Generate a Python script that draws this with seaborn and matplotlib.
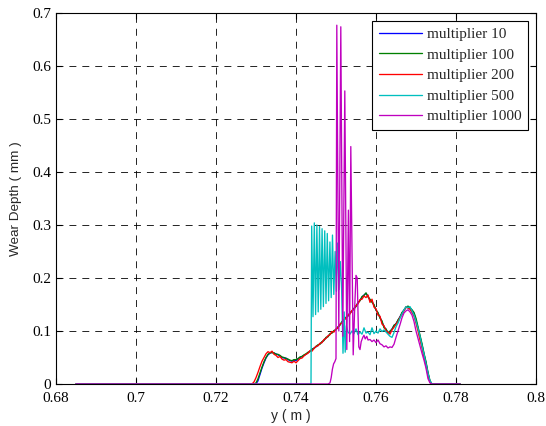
import numpy as np
import pandas as pd
import matplotlib
matplotlib.use("Agg")
import matplotlib.pyplot as plt
import seaborn as sns

# ---------------------------------------------------------------------------
# Wear depth profiles across the rail (y position in m, depth in mm)
# ---------------------------------------------------------------------------
series_labels = ["multiplier 10", "multiplier 100", "multiplier 200",
                 "multiplier 500", "multiplier 1000"]
series_colors = ["#0000ff", "#008000", "#ff0000", "#00bfbf", "#bf00bf"]

# contact zone edges (wear is zero outside)
zone_start = 0.685
zone_end = 0.781

# common sampling grid for the three low-multiplier runs
pos_fine = np.round(np.arange(0.7290, 0.77451, 0.0005), 4)

depth_m10 = [
    0.000, 0.000, 0.000, 0.006, 0.018, 0.030, 0.040, 0.049, 0.055, 0.058,
    0.060, 0.058, 0.057, 0.055, 0.053, 0.050, 0.049, 0.049, 0.046, 0.044,
    0.043, 0.045, 0.044, 0.047, 0.050, 0.052, 0.054, 0.056, 0.059, 0.062,
    0.065, 0.068, 0.070, 0.073, 0.076, 0.079, 0.083, 0.087, 0.090, 0.094,
    0.097, 0.100, 0.103, 0.107, 0.112, 0.117, 0.121, 0.125, 0.129, 0.134,
    0.138, 0.142, 0.147, 0.153, 0.158, 0.164, 0.168, 0.171, 0.166, 0.158,
    0.156, 0.148, 0.140, 0.133, 0.126, 0.117, 0.108, 0.103, 0.097, 0.098,
    0.104, 0.110, 0.114, 0.120, 0.127, 0.134, 0.140, 0.144, 0.146, 0.143,
    0.139, 0.133, 0.120, 0.105, 0.089, 0.074, 0.056, 0.040, 0.020, 0.005,
    0.000, 0.000,
]

depth_m100 = [
    0.000, 0.000, 0.002, 0.010, 0.021, 0.032, 0.042, 0.050, 0.056, 0.059,
    0.059, 0.059, 0.056, 0.056, 0.054, 0.051, 0.050, 0.048, 0.047, 0.045,
    0.044, 0.046, 0.046, 0.048, 0.051, 0.052, 0.055, 0.057, 0.060, 0.061,
    0.066, 0.067, 0.071, 0.074, 0.075, 0.080, 0.082, 0.088, 0.089, 0.095,
    0.096, 0.101, 0.102, 0.108, 0.111, 0.118, 0.120, 0.126, 0.128, 0.135,
    0.137, 0.143, 0.146, 0.154, 0.157, 0.165, 0.167, 0.172, 0.164, 0.160,
    0.154, 0.150, 0.139, 0.135, 0.124, 0.119, 0.106, 0.104, 0.096, 0.100,
    0.103, 0.111, 0.113, 0.121, 0.126, 0.135, 0.139, 0.145, 0.147, 0.144,
    0.140, 0.135, 0.124, 0.108, 0.092, 0.076, 0.058, 0.042, 0.022, 0.006,
    0.000, 0.000,
]

depth_m200 = [
    0.000, 0.004, 0.012, 0.022, 0.033, 0.043, 0.050, 0.057, 0.061, 0.059,
    0.062, 0.056, 0.054, 0.050, 0.052, 0.047, 0.045, 0.046, 0.042, 0.041,
    0.040, 0.043, 0.040, 0.044, 0.048, 0.049, 0.053, 0.056, 0.058, 0.063,
    0.062, 0.067, 0.071, 0.072, 0.077, 0.078, 0.084, 0.086, 0.091, 0.093,
    0.099, 0.098, 0.104, 0.106, 0.113, 0.115, 0.122, 0.124, 0.130, 0.132,
    0.139, 0.141, 0.148, 0.151, 0.159, 0.160, 0.166, 0.163, 0.168, 0.154,
    0.160, 0.145, 0.142, 0.130, 0.128, 0.113, 0.110, 0.100, 0.098, 0.094,
    0.102, 0.107, 0.113, 0.118, 0.126, 0.131, 0.138, 0.146, 0.143, 0.141,
    0.135, 0.128, 0.115, 0.100, 0.083, 0.068, 0.050, 0.034, 0.016, 0.003,
    0.000, 0.000,
]

# multiplier 500: oscillating start of the wear zone
pos_m500 = [
    0.68500, 0.74375, 0.74392, 0.74425, 0.74458, 0.74490, 0.74522, 0.74555,
    0.74588, 0.74620, 0.74652, 0.74685, 0.74718, 0.74750, 0.74782, 0.74815,
    0.74848, 0.74880, 0.74912, 0.74945, 0.74978, 0.75010, 0.75042, 0.75075,
    0.75108, 0.75140, 0.75175, 0.75205, 0.75230, 0.75260, 0.7530, 0.7535,
    0.7540, 0.7545, 0.7550, 0.7555, 0.7560, 0.7565, 0.7570, 0.7575,
    0.7580, 0.7585, 0.7590, 0.7595, 0.7600, 0.7605, 0.7610, 0.7615,
    0.7620, 0.7625, 0.7630, 0.7635, 0.7640, 0.7645, 0.7650, 0.7655,
    0.7660, 0.7665, 0.7670, 0.7675, 0.7680, 0.7685, 0.7690, 0.7695,
    0.7700, 0.7705, 0.7710, 0.7715, 0.7720, 0.7725, 0.7730, 0.7735,
    0.7740, 0.78100,
]
depth_m500 = [
    0.000, 0.000, 0.298, 0.127, 0.304, 0.131, 0.300, 0.136,
    0.297, 0.141, 0.293, 0.146, 0.289, 0.152, 0.284, 0.157,
    0.268, 0.163, 0.281, 0.169, 0.250, 0.175, 0.266, 0.178,
    0.231, 0.180, 0.058, 0.136, 0.060, 0.110, 0.098, 0.094,
    0.100, 0.095, 0.104, 0.093, 0.098, 0.094, 0.106, 0.096,
    0.098, 0.093, 0.106, 0.095, 0.100, 0.096, 0.104, 0.099,
    0.102, 0.098, 0.094, 0.090, 0.088, 0.097, 0.108, 0.115,
    0.124, 0.132, 0.140, 0.146, 0.144, 0.146, 0.138, 0.130,
    0.118, 0.105, 0.090, 0.072, 0.056, 0.038, 0.020, 0.006,
    0.000, 0.000,
]

# multiplier 1000: sharp spikes at the start of the wear zone
pos_m1000 = [
    0.6850, 0.7480, 0.7485, 0.7488, 0.7491, 0.7494, 0.7497, 0.7500,
    0.7502, 0.7507, 0.7512, 0.7517, 0.7522, 0.7527, 0.7531, 0.7534,
    0.7537, 0.7543, 0.7547, 0.7550, 0.7553, 0.7557, 0.7560, 0.7563,
    0.7567, 0.7570, 0.7573, 0.7577, 0.7580, 0.7585, 0.7590, 0.7595,
    0.7600, 0.7605, 0.7610, 0.7615, 0.7620, 0.7625, 0.7630, 0.7635,
    0.7640, 0.7645, 0.7650, 0.7655, 0.7660, 0.7665, 0.7670, 0.7675,
    0.7680, 0.7685, 0.7690, 0.7695, 0.7700, 0.7705, 0.7710, 0.7715,
    0.7720, 0.7725, 0.7730, 0.7735, 0.7740, 0.7810,
]
depth_m1000 = [
    0.000, 0.000, 0.002, 0.012, 0.028, 0.038, 0.042, 0.048,
    0.677, 0.100, 0.674, 0.090, 0.553, 0.065, 0.328, 0.080,
    0.448, 0.055, 0.150, 0.205, 0.200, 0.070, 0.065, 0.080,
    0.088, 0.092, 0.085, 0.090, 0.083, 0.084, 0.080, 0.083,
    0.078, 0.083, 0.076, 0.074, 0.070, 0.072, 0.068, 0.070,
    0.069, 0.075, 0.088, 0.100, 0.112, 0.125, 0.134, 0.138,
    0.140, 0.136, 0.130, 0.118, 0.100, 0.086, 0.072, 0.058,
    0.045, 0.030, 0.010, 0.002, 0.000, 0.000,
]

x_ticks = [0.68, 0.70, 0.72, 0.74, 0.76, 0.78, 0.80]
x_tick_labels = ["0.68", "0.7", "0.72", "0.74", "0.76", "0.78", "0.8"]
y_ticks = [0.0, 0.1, 0.2, 0.3, 0.4, 0.5, 0.6, 0.7]
y_tick_labels = ["0", "0.1", "0.2", "0.3", "0.4", "0.5", "0.6", "0.7"]

# ---------------------------------------------------------------------------
# Long-format table
# ---------------------------------------------------------------------------
def profile(label, pos, depth):
    return pd.DataFrame({"y": list(pos), "depth": list(depth), "run": label})

def padded(pos, depth):
    return [zone_start] + list(pos) + [zone_end], [0.0] + list(depth) + [0.0]

frames = [
    profile(series_labels[0], *padded(pos_fine, depth_m10)),
    profile(series_labels[1], *padded(pos_fine, depth_m100)),
    profile(series_labels[2], *padded(pos_fine, depth_m200)),
    profile(series_labels[3], pos_m500, depth_m500),
    profile(series_labels[4], pos_m1000, depth_m1000),
]
df = pd.concat(frames, ignore_index=True)

# ---------------------------------------------------------------------------
# Plot
# ---------------------------------------------------------------------------
sns.set_style("ticks")
plt.rcParams["font.family"] = ["Liberation Serif", "DejaVu Serif"]
plt.rcParams["lines.scale_dashes"] = False

fig = plt.figure(figsize=(5.46, 4.26), dpi=100)
fig.patch.set_facecolor("white")
ax = fig.add_axes([56 / 546, 42 / 426, 480 / 546, 371 / 426])

sns.lineplot(data=df, x="y", y="depth", hue="run", hue_order=series_labels,
             palette=series_colors, estimator=None, sort=False, errorbar=None,
             linewidth=0.95, ax=ax)

ax.set_xlim(0.68, 0.80)
ax.set_ylim(0.0, 0.7)
ax.set_xticks(x_ticks)
ax.set_xticklabels(x_tick_labels)
ax.set_yticks(y_ticks)
ax.set_yticklabels(y_tick_labels)

ax.grid(True, color="black", linestyle=(0, (5, 4.3)), linewidth=0.6)
ax.set_axisbelow(True)
for side in ["left", "right", "top", "bottom"]:
    ax.spines[side].set_visible(True)
    ax.spines[side].set_color("black")
    ax.spines[side].set_linewidth(0.8)

ax.tick_params(direction="in", top=True, right=True, length=4, width=0.8,
               labelsize=11, colors="black")
ax.tick_params(axis="x", pad=5.5)
ax.tick_params(axis="y", pad=3.5)

ax.set_xlabel("y ( m )", fontfamily="Liberation Sans", fontsize=10)
ax.set_ylabel("Wear Depth ( mm )", fontfamily="Liberation Sans", fontsize=9.7)
ax.xaxis.set_label_coords(0.49, -0.068)
ax.yaxis.set_label_coords(-0.071, 0.5)

sns.move_legend(ax, "upper right", title=None, fontsize=11, frameon=True,
                fancybox=False, framealpha=1.0, edgecolor="black",
                handlelength=2.8, handletextpad=0.35, labelspacing=0.45,
                borderpad=0.45, borderaxespad=0.5)
leg = ax.get_legend()
leg.get_frame().set_linewidth(0.8)

fig.savefig("out.png", dpi=100, facecolor="white")
